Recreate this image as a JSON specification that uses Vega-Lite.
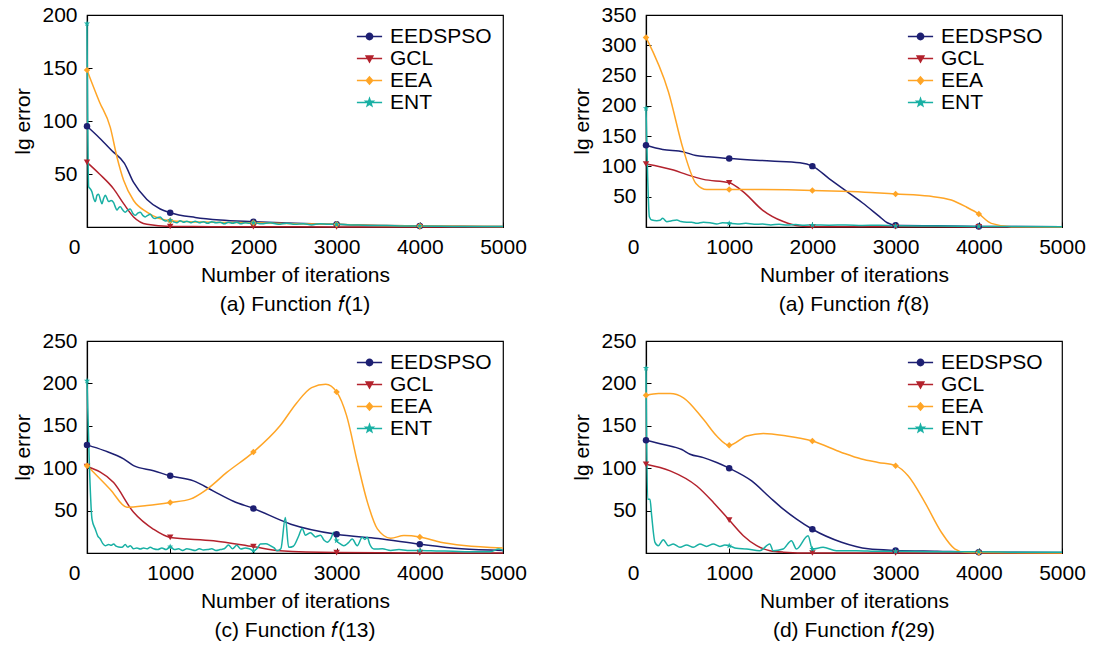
{
  "$schema": "https://vega.github.io/schema/vega-lite/v6.json",
  "padding": {"left": 12, "top": 3, "right": 0, "bottom": 0},
  "background": "white",
  "config": {
    "view": {"stroke": "black", "strokeWidth": 1.2},
    "font": "Liberation Sans",
    "axis": {
      "labelFont": "Liberation Sans", "labelFontSize": 21, "labelColor": "black",
      "titleFont": "Liberation Sans", "titleFontSize": 21, "titleFontWeight": "normal", "titleColor": "black",
      "domainColor": "black", "domainWidth": 1.2, "tickColor": "black", "tickSize": -5, "tickWidth": 1,
      "grid": false, "labelFlush": false, "labelOverlap": false
    },
    "legend": {
      "orient": "none", "legendY": 10, "labelFont": "Liberation Sans", "labelFontSize": 21,
      "labelColor": "black", "symbolSize": 441, "rowPadding": -2.5, "labelOffset": 9, "padding": 0
    },
    "title": {"font": "Liberation Sans", "fontSize": 21, "fontWeight": "normal", "color": "black", "orient": "bottom", "offset": 9}
  },
  "datasets": {
    "p1": [
      {"s": "EEDSPSO", "x": 0, "y": 95, "m": 1}, {"s": "EEDSPSO", "x": 150, "y": 84}, {"s": "EEDSPSO", "x": 300, "y": 72}, {"s": "EEDSPSO", "x": 450, "y": 60}, {"s": "EEDSPSO", "x": 560, "y": 42}, {"s": "EEDSPSO", "x": 720, "y": 26}, {"s": "EEDSPSO", "x": 880, "y": 17}, {"s": "EEDSPSO", "x": 1000, "y": 13.5, "m": 1}, {"s": "EEDSPSO", "x": 1300, "y": 9}, {"s": "EEDSPSO", "x": 1600, "y": 6.5}, {"s": "EEDSPSO", "x": 2000, "y": 5, "m": 1}, {"s": "EEDSPSO", "x": 2500, "y": 3.5}, {"s": "EEDSPSO", "x": 3000, "y": 2.5, "m": 1}, {"s": "EEDSPSO", "x": 3500, "y": 1.5}, {"s": "EEDSPSO", "x": 4000, "y": 1, "m": 1}, {"s": "EEDSPSO", "x": 4500, "y": 0.7}, {"s": "EEDSPSO", "x": 5000, "y": 0.5},
      {"s": "GCL", "x": 0, "y": 61, "m": 1}, {"s": "GCL", "x": 150, "y": 50}, {"s": "GCL", "x": 320, "y": 36}, {"s": "GCL", "x": 440, "y": 22}, {"s": "GCL", "x": 560, "y": 9.5}, {"s": "GCL", "x": 720, "y": 2.5}, {"s": "GCL", "x": 1000, "y": 0.5, "m": 1}, {"s": "GCL", "x": 1500, "y": 0.3}, {"s": "GCL", "x": 2000, "y": 0.2, "m": 1}, {"s": "GCL", "x": 3000, "y": 0.1, "m": 1}, {"s": "GCL", "x": 4000, "y": 0, "m": 1}, {"s": "GCL", "x": 5000, "y": 0},
      {"s": "EEA", "x": 0, "y": 148, "m": 1}, {"s": "EEA", "x": 150, "y": 118}, {"s": "EEA", "x": 280, "y": 94}, {"s": "EEA", "x": 360, "y": 66}, {"s": "EEA", "x": 440, "y": 44}, {"s": "EEA", "x": 560, "y": 25}, {"s": "EEA", "x": 720, "y": 14}, {"s": "EEA", "x": 1000, "y": 6, "m": 1}, {"s": "EEA", "x": 1500, "y": 4.5}, {"s": "EEA", "x": 2000, "y": 4, "m": 1}, {"s": "EEA", "x": 2500, "y": 3}, {"s": "EEA", "x": 3000, "y": 2.5, "m": 1}, {"s": "EEA", "x": 3500, "y": 1.5}, {"s": "EEA", "x": 4000, "y": 1, "m": 1}, {"s": "EEA", "x": 5000, "y": 0.5},
      {"s": "ENT", "x": 0, "y": 192, "m": 1}, {"s": "ENT", "x": 20, "y": 38}, {"s": "ENT", "x": 40, "y": 36}, {"s": "ENT", "x": 60, "y": 33}, {"s": "ENT", "x": 80, "y": 27}, {"s": "ENT", "x": 100, "y": 24}, {"s": "ENT", "x": 120, "y": 30}, {"s": "ENT", "x": 140, "y": 31}, {"s": "ENT", "x": 160, "y": 26}, {"s": "ENT", "x": 180, "y": 22}, {"s": "ENT", "x": 200, "y": 27}, {"s": "ENT", "x": 220, "y": 30}, {"s": "ENT", "x": 240, "y": 27}, {"s": "ENT", "x": 260, "y": 24}, {"s": "ENT", "x": 290, "y": 25}, {"s": "ENT", "x": 320, "y": 23}, {"s": "ENT", "x": 340, "y": 19}, {"s": "ENT", "x": 360, "y": 16}, {"s": "ENT", "x": 380, "y": 18}, {"s": "ENT", "x": 400, "y": 19}, {"s": "ENT", "x": 430, "y": 16}, {"s": "ENT", "x": 460, "y": 14}, {"s": "ENT", "x": 490, "y": 16}, {"s": "ENT", "x": 520, "y": 17}, {"s": "ENT", "x": 550, "y": 13}, {"s": "ENT", "x": 580, "y": 11}, {"s": "ENT", "x": 610, "y": 13}, {"s": "ENT", "x": 640, "y": 14}, {"s": "ENT", "x": 670, "y": 11}, {"s": "ENT", "x": 700, "y": 9.5}, {"s": "ENT", "x": 730, "y": 11}, {"s": "ENT", "x": 760, "y": 12}, {"s": "ENT", "x": 790, "y": 9}, {"s": "ENT", "x": 820, "y": 8}, {"s": "ENT", "x": 850, "y": 9}, {"s": "ENT", "x": 880, "y": 9.5}, {"s": "ENT", "x": 910, "y": 7}, {"s": "ENT", "x": 940, "y": 5.7}, {"s": "ENT", "x": 970, "y": 6}, {"s": "ENT", "x": 1000, "y": 6.3, "m": 1}, {"s": "ENT", "x": 1040, "y": 5}, {"s": "ENT", "x": 1080, "y": 4}, {"s": "ENT", "x": 1120, "y": 6}, {"s": "ENT", "x": 1160, "y": 4.5}, {"s": "ENT", "x": 1200, "y": 5.5}, {"s": "ENT", "x": 1250, "y": 4}, {"s": "ENT", "x": 1300, "y": 5.5}, {"s": "ENT", "x": 1350, "y": 4}, {"s": "ENT", "x": 1400, "y": 5}, {"s": "ENT", "x": 1450, "y": 3.5}, {"s": "ENT", "x": 1500, "y": 5}, {"s": "ENT", "x": 1550, "y": 4}, {"s": "ENT", "x": 1600, "y": 4.5}, {"s": "ENT", "x": 1650, "y": 3}, {"s": "ENT", "x": 1700, "y": 4.5}, {"s": "ENT", "x": 1750, "y": 3.5}, {"s": "ENT", "x": 1800, "y": 4.5}, {"s": "ENT", "x": 1850, "y": 3}, {"s": "ENT", "x": 1900, "y": 4}, {"s": "ENT", "x": 1950, "y": 3.5}, {"s": "ENT", "x": 2000, "y": 4, "m": 1}, {"s": "ENT", "x": 2100, "y": 3}, {"s": "ENT", "x": 2200, "y": 4}, {"s": "ENT", "x": 2300, "y": 2.5}, {"s": "ENT", "x": 2400, "y": 3.5}, {"s": "ENT", "x": 2500, "y": 2.5}, {"s": "ENT", "x": 2600, "y": 3}, {"s": "ENT", "x": 2700, "y": 2}, {"s": "ENT", "x": 2800, "y": 3}, {"s": "ENT", "x": 2900, "y": 2.5}, {"s": "ENT", "x": 3000, "y": 2.5, "m": 1}, {"s": "ENT", "x": 3200, "y": 2}, {"s": "ENT", "x": 3400, "y": 1.5}, {"s": "ENT", "x": 3600, "y": 1.5}, {"s": "ENT", "x": 3800, "y": 1}, {"s": "ENT", "x": 4000, "y": 1, "m": 1}, {"s": "ENT", "x": 4500, "y": 0.5}, {"s": "ENT", "x": 5000, "y": 0.5}
    ],
    "p2": [
      {"s": "EEDSPSO", "x": 0, "y": 135, "m": 1}, {"s": "EEDSPSO", "x": 200, "y": 128}, {"s": "EEDSPSO", "x": 450, "y": 124}, {"s": "EEDSPSO", "x": 600, "y": 118}, {"s": "EEDSPSO", "x": 750, "y": 116}, {"s": "EEDSPSO", "x": 1000, "y": 113, "m": 1}, {"s": "EEDSPSO", "x": 1500, "y": 109}, {"s": "EEDSPSO", "x": 1850, "y": 106}, {"s": "EEDSPSO", "x": 2000, "y": 100.5, "m": 1}, {"s": "EEDSPSO", "x": 2200, "y": 80}, {"s": "EEDSPSO", "x": 2400, "y": 60}, {"s": "EEDSPSO", "x": 2600, "y": 40}, {"s": "EEDSPSO", "x": 2800, "y": 18}, {"s": "EEDSPSO", "x": 2900, "y": 7}, {"s": "EEDSPSO", "x": 3000, "y": 3, "m": 1}, {"s": "EEDSPSO", "x": 3500, "y": 2}, {"s": "EEDSPSO", "x": 4000, "y": 1, "m": 1}, {"s": "EEDSPSO", "x": 5000, "y": 0.5},
      {"s": "GCL", "x": 0, "y": 104, "m": 1}, {"s": "GCL", "x": 330, "y": 94}, {"s": "GCL", "x": 500, "y": 86}, {"s": "GCL", "x": 690, "y": 78.6}, {"s": "GCL", "x": 1000, "y": 73, "m": 1}, {"s": "GCL", "x": 1170, "y": 58}, {"s": "GCL", "x": 1400, "y": 28}, {"s": "GCL", "x": 1650, "y": 9}, {"s": "GCL", "x": 1850, "y": 1.6}, {"s": "GCL", "x": 2000, "y": 0.5, "m": 1}, {"s": "GCL", "x": 3000, "y": 0.3, "m": 1}, {"s": "GCL", "x": 4000, "y": 0.2, "m": 1}, {"s": "GCL", "x": 5000, "y": 0},
      {"s": "EEA", "x": 0, "y": 313, "m": 1}, {"s": "EEA", "x": 270, "y": 223}, {"s": "EEA", "x": 450, "y": 127}, {"s": "EEA", "x": 600, "y": 72}, {"s": "EEA", "x": 730, "y": 62}, {"s": "EEA", "x": 1000, "y": 62, "m": 1}, {"s": "EEA", "x": 2000, "y": 60.4, "m": 1}, {"s": "EEA", "x": 2350, "y": 59}, {"s": "EEA", "x": 2700, "y": 57}, {"s": "EEA", "x": 3000, "y": 54.5, "m": 1}, {"s": "EEA", "x": 3400, "y": 51}, {"s": "EEA", "x": 3670, "y": 44.5}, {"s": "EEA", "x": 3850, "y": 33}, {"s": "EEA", "x": 4000, "y": 21.5, "m": 1}, {"s": "EEA", "x": 4150, "y": 6}, {"s": "EEA", "x": 4390, "y": 0.6}, {"s": "EEA", "x": 5000, "y": 0},
      {"s": "ENT", "x": 0, "y": 196, "m": 1}, {"s": "ENT", "x": 20, "y": 83}, {"s": "ENT", "x": 40, "y": 17}, {"s": "ENT", "x": 70, "y": 11.5}, {"s": "ENT", "x": 130, "y": 10.4}, {"s": "ENT", "x": 170, "y": 11}, {"s": "ENT", "x": 200, "y": 14.3}, {"s": "ENT", "x": 250, "y": 8.8}, {"s": "ENT", "x": 300, "y": 10}, {"s": "ENT", "x": 370, "y": 11.5}, {"s": "ENT", "x": 420, "y": 9}, {"s": "ENT", "x": 490, "y": 7.7}, {"s": "ENT", "x": 550, "y": 8}, {"s": "ENT", "x": 610, "y": 6}, {"s": "ENT", "x": 690, "y": 8}, {"s": "ENT", "x": 770, "y": 7}, {"s": "ENT", "x": 850, "y": 5}, {"s": "ENT", "x": 920, "y": 7}, {"s": "ENT", "x": 1000, "y": 6, "m": 1}, {"s": "ENT", "x": 1100, "y": 5}, {"s": "ENT", "x": 1200, "y": 6}, {"s": "ENT", "x": 1300, "y": 4.4}, {"s": "ENT", "x": 1400, "y": 5}, {"s": "ENT", "x": 1500, "y": 3.5}, {"s": "ENT", "x": 1600, "y": 4.5}, {"s": "ENT", "x": 1700, "y": 3.3}, {"s": "ENT", "x": 1800, "y": 4}, {"s": "ENT", "x": 1900, "y": 3}, {"s": "ENT", "x": 2000, "y": 3.3, "m": 1}, {"s": "ENT", "x": 2200, "y": 3}, {"s": "ENT", "x": 2400, "y": 3.5}, {"s": "ENT", "x": 2600, "y": 2.5}, {"s": "ENT", "x": 2800, "y": 3}, {"s": "ENT", "x": 3000, "y": 2, "m": 1}, {"s": "ENT", "x": 3500, "y": 1.5}, {"s": "ENT", "x": 4000, "y": 1, "m": 1}, {"s": "ENT", "x": 5000, "y": 0.5}
    ],
    "p3": [
      {"s": "EEDSPSO", "x": 0, "y": 127.5, "m": 1}, {"s": "EEDSPSO", "x": 200, "y": 121}, {"s": "EEDSPSO", "x": 440, "y": 111}, {"s": "EEDSPSO", "x": 560, "y": 103}, {"s": "EEDSPSO", "x": 800, "y": 97}, {"s": "EEDSPSO", "x": 1000, "y": 91, "m": 1}, {"s": "EEDSPSO", "x": 1280, "y": 85}, {"s": "EEDSPSO", "x": 1520, "y": 73}, {"s": "EEDSPSO", "x": 1760, "y": 61}, {"s": "EEDSPSO", "x": 2000, "y": 52.5, "m": 1}, {"s": "EEDSPSO", "x": 2450, "y": 34}, {"s": "EEDSPSO", "x": 3000, "y": 22, "m": 1}, {"s": "EEDSPSO", "x": 3500, "y": 17}, {"s": "EEDSPSO", "x": 4000, "y": 10.4, "m": 1}, {"s": "EEDSPSO", "x": 4500, "y": 5}, {"s": "EEDSPSO", "x": 5000, "y": 3},
      {"s": "GCL", "x": 0, "y": 102, "m": 1}, {"s": "GCL", "x": 320, "y": 83}, {"s": "GCL", "x": 560, "y": 48}, {"s": "GCL", "x": 800, "y": 28}, {"s": "GCL", "x": 1000, "y": 18.4, "m": 1}, {"s": "GCL", "x": 1520, "y": 14.5}, {"s": "GCL", "x": 2000, "y": 7.5, "m": 1}, {"s": "GCL", "x": 2320, "y": 2.7}, {"s": "GCL", "x": 3000, "y": 0.5, "m": 1}, {"s": "GCL", "x": 4000, "y": 0, "m": 1}, {"s": "GCL", "x": 5000, "y": 0},
      {"s": "EEA", "x": 0, "y": 103, "m": 1}, {"s": "EEA", "x": 280, "y": 75}, {"s": "EEA", "x": 480, "y": 54}, {"s": "EEA", "x": 720, "y": 56}, {"s": "EEA", "x": 1000, "y": 59.6, "m": 1}, {"s": "EEA", "x": 1240, "y": 63.5}, {"s": "EEA", "x": 1440, "y": 75}, {"s": "EEA", "x": 1680, "y": 95}, {"s": "EEA", "x": 2000, "y": 119, "m": 1}, {"s": "EEA", "x": 2320, "y": 150}, {"s": "EEA", "x": 2520, "y": 177}, {"s": "EEA", "x": 2700, "y": 195}, {"s": "EEA", "x": 2870, "y": 199}, {"s": "EEA", "x": 3000, "y": 190, "m": 1}, {"s": "EEA", "x": 3120, "y": 162}, {"s": "EEA", "x": 3250, "y": 107}, {"s": "EEA", "x": 3370, "y": 60}, {"s": "EEA", "x": 3490, "y": 28.5}, {"s": "EEA", "x": 3650, "y": 17.5}, {"s": "EEA", "x": 3810, "y": 20.6}, {"s": "EEA", "x": 4000, "y": 19, "m": 1}, {"s": "EEA", "x": 4250, "y": 12.7}, {"s": "EEA", "x": 4530, "y": 8.8}, {"s": "EEA", "x": 5000, "y": 6},
      {"s": "ENT", "x": 0, "y": 203, "m": 1}, {"s": "ENT", "x": 30, "y": 99}, {"s": "ENT", "x": 60, "y": 40}, {"s": "ENT", "x": 100, "y": 28}, {"s": "ENT", "x": 130, "y": 20}, {"s": "ENT", "x": 160, "y": 16.5}, {"s": "ENT", "x": 190, "y": 11}, {"s": "ENT", "x": 220, "y": 8.6}, {"s": "ENT", "x": 260, "y": 10}, {"s": "ENT", "x": 290, "y": 9}, {"s": "ENT", "x": 320, "y": 10.6}, {"s": "ENT", "x": 350, "y": 8}, {"s": "ENT", "x": 380, "y": 7}, {"s": "ENT", "x": 420, "y": 6.7}, {"s": "ENT", "x": 460, "y": 10}, {"s": "ENT", "x": 490, "y": 7}, {"s": "ENT", "x": 520, "y": 8.6}, {"s": "ENT", "x": 560, "y": 5}, {"s": "ENT", "x": 600, "y": 6}, {"s": "ENT", "x": 640, "y": 4.7}, {"s": "ENT", "x": 680, "y": 6}, {"s": "ENT", "x": 720, "y": 5}, {"s": "ENT", "x": 760, "y": 6.7}, {"s": "ENT", "x": 800, "y": 5}, {"s": "ENT", "x": 850, "y": 4}, {"s": "ENT", "x": 900, "y": 6}, {"s": "ENT", "x": 950, "y": 4}, {"s": "ENT", "x": 1000, "y": 7.5, "m": 1}, {"s": "ENT", "x": 1050, "y": 4}, {"s": "ENT", "x": 1100, "y": 5}, {"s": "ENT", "x": 1150, "y": 3}, {"s": "ENT", "x": 1200, "y": 5}, {"s": "ENT", "x": 1250, "y": 4}, {"s": "ENT", "x": 1300, "y": 3}, {"s": "ENT", "x": 1350, "y": 5}, {"s": "ENT", "x": 1400, "y": 3.5}, {"s": "ENT", "x": 1450, "y": 4}, {"s": "ENT", "x": 1500, "y": 5}, {"s": "ENT", "x": 1550, "y": 3}, {"s": "ENT", "x": 1600, "y": 4}, {"s": "ENT", "x": 1650, "y": 5}, {"s": "ENT", "x": 1700, "y": 9.4}, {"s": "ENT", "x": 1750, "y": 5}, {"s": "ENT", "x": 1800, "y": 9}, {"s": "ENT", "x": 1850, "y": 4.7}, {"s": "ENT", "x": 1900, "y": 6}, {"s": "ENT", "x": 1950, "y": 5}, {"s": "ENT", "x": 2000, "y": 2.7, "m": 1}, {"s": "ENT", "x": 2050, "y": 6}, {"s": "ENT", "x": 2083, "y": 10.6}, {"s": "ENT", "x": 2150, "y": 11}, {"s": "ENT", "x": 2203, "y": 8.6}, {"s": "ENT", "x": 2250, "y": 6}, {"s": "ENT", "x": 2283, "y": 2.7}, {"s": "ENT", "x": 2330, "y": 5}, {"s": "ENT", "x": 2384, "y": 42}, {"s": "ENT", "x": 2424, "y": 6.7}, {"s": "ENT", "x": 2480, "y": 8}, {"s": "ENT", "x": 2544, "y": 20}, {"s": "ENT", "x": 2586, "y": 29}, {"s": "ENT", "x": 2626, "y": 21}, {"s": "ENT", "x": 2686, "y": 24}, {"s": "ENT", "x": 2746, "y": 19}, {"s": "ENT", "x": 2806, "y": 21}, {"s": "ENT", "x": 2850, "y": 15}, {"s": "ENT", "x": 2887, "y": 12.7}, {"s": "ENT", "x": 2930, "y": 17}, {"s": "ENT", "x": 2967, "y": 24.5}, {"s": "ENT", "x": 3000, "y": 14.6, "m": 1}, {"s": "ENT", "x": 3040, "y": 11}, {"s": "ENT", "x": 3087, "y": 8.6}, {"s": "ENT", "x": 3140, "y": 12}, {"s": "ENT", "x": 3188, "y": 16.5}, {"s": "ENT", "x": 3248, "y": 8.6}, {"s": "ENT", "x": 3308, "y": 18.5}, {"s": "ENT", "x": 3340, "y": 16}, {"s": "ENT", "x": 3368, "y": 18.5}, {"s": "ENT", "x": 3400, "y": 10}, {"s": "ENT", "x": 3448, "y": 4.7}, {"s": "ENT", "x": 3550, "y": 5}, {"s": "ENT", "x": 3650, "y": 3}, {"s": "ENT", "x": 3750, "y": 4}, {"s": "ENT", "x": 3850, "y": 3}, {"s": "ENT", "x": 4000, "y": 3, "m": 1}, {"s": "ENT", "x": 4200, "y": 2.5}, {"s": "ENT", "x": 4400, "y": 2}, {"s": "ENT", "x": 4600, "y": 1.5}, {"s": "ENT", "x": 4850, "y": 1.6}, {"s": "ENT", "x": 4950, "y": 4.7}, {"s": "ENT", "x": 5000, "y": 3}
    ],
    "p4": [
      {"s": "EEDSPSO", "x": 0, "y": 133, "m": 1}, {"s": "EEDSPSO", "x": 210, "y": 128}, {"s": "EEDSPSO", "x": 430, "y": 122}, {"s": "EEDSPSO", "x": 530, "y": 116.5}, {"s": "EEDSPSO", "x": 690, "y": 112.5}, {"s": "EEDSPSO", "x": 850, "y": 106.7}, {"s": "EEDSPSO", "x": 1000, "y": 100, "m": 1}, {"s": "EEDSPSO", "x": 1270, "y": 85}, {"s": "EEDSPSO", "x": 1490, "y": 65.5}, {"s": "EEDSPSO", "x": 1650, "y": 51.8}, {"s": "EEDSPSO", "x": 1810, "y": 40}, {"s": "EEDSPSO", "x": 2000, "y": 28, "m": 1}, {"s": "EEDSPSO", "x": 2350, "y": 12.7}, {"s": "EEDSPSO", "x": 2670, "y": 4.9}, {"s": "EEDSPSO", "x": 3000, "y": 3, "m": 1}, {"s": "EEDSPSO", "x": 3500, "y": 2}, {"s": "EEDSPSO", "x": 4000, "y": 1, "m": 1}, {"s": "EEDSPSO", "x": 5000, "y": 0.5},
      {"s": "GCL", "x": 0, "y": 104.7, "m": 1}, {"s": "GCL", "x": 290, "y": 96.9}, {"s": "GCL", "x": 610, "y": 79}, {"s": "GCL", "x": 810, "y": 59.6}, {"s": "GCL", "x": 1000, "y": 38.8, "m": 1}, {"s": "GCL", "x": 1170, "y": 20.4}, {"s": "GCL", "x": 1330, "y": 8.6}, {"s": "GCL", "x": 1490, "y": 2.7}, {"s": "GCL", "x": 1650, "y": 1}, {"s": "GCL", "x": 2000, "y": 0, "m": 1}, {"s": "GCL", "x": 3000, "y": 0, "m": 1}, {"s": "GCL", "x": 4000, "y": 0, "m": 1}, {"s": "GCL", "x": 5000, "y": 0},
      {"s": "EEA", "x": 0, "y": 186, "m": 1}, {"s": "EEA", "x": 150, "y": 188}, {"s": "EEA", "x": 290, "y": 188}, {"s": "EEA", "x": 450, "y": 183}, {"s": "EEA", "x": 690, "y": 157.6}, {"s": "EEA", "x": 850, "y": 138}, {"s": "EEA", "x": 1000, "y": 127, "m": 1}, {"s": "EEA", "x": 1210, "y": 138}, {"s": "EEA", "x": 1410, "y": 141}, {"s": "EEA", "x": 1690, "y": 138}, {"s": "EEA", "x": 2000, "y": 132, "m": 1}, {"s": "EEA", "x": 2350, "y": 118.6}, {"s": "EEA", "x": 2590, "y": 110.8}, {"s": "EEA", "x": 2790, "y": 106.8}, {"s": "EEA", "x": 3000, "y": 103, "m": 1}, {"s": "EEA", "x": 3150, "y": 91}, {"s": "EEA", "x": 3350, "y": 60}, {"s": "EEA", "x": 3550, "y": 24.5}, {"s": "EEA", "x": 3710, "y": 5}, {"s": "EEA", "x": 3830, "y": 1}, {"s": "EEA", "x": 4000, "y": 0.5, "m": 1}, {"s": "EEA", "x": 5000, "y": 0},
      {"s": "ENT", "x": 0, "y": 218, "m": 1}, {"s": "ENT", "x": 20, "y": 63.5}, {"s": "ENT", "x": 48, "y": 63.5}, {"s": "ENT", "x": 68, "y": 44}, {"s": "ENT", "x": 108, "y": 12.5}, {"s": "ENT", "x": 148, "y": 8.6}, {"s": "ENT", "x": 208, "y": 15.7}, {"s": "ENT", "x": 268, "y": 8.6}, {"s": "ENT", "x": 328, "y": 10.6}, {"s": "ENT", "x": 408, "y": 6.7}, {"s": "ENT", "x": 488, "y": 9.4}, {"s": "ENT", "x": 568, "y": 6.7}, {"s": "ENT", "x": 648, "y": 10.6}, {"s": "ENT", "x": 728, "y": 7.8}, {"s": "ENT", "x": 808, "y": 10.6}, {"s": "ENT", "x": 888, "y": 7.8}, {"s": "ENT", "x": 948, "y": 9.4}, {"s": "ENT", "x": 1000, "y": 8.6, "m": 1}, {"s": "ENT", "x": 1088, "y": 5.5}, {"s": "ENT", "x": 1208, "y": 4.7}, {"s": "ENT", "x": 1368, "y": 2.7}, {"s": "ENT", "x": 1488, "y": 10.6}, {"s": "ENT", "x": 1528, "y": 2.7}, {"s": "ENT", "x": 1648, "y": 4.7}, {"s": "ENT", "x": 1748, "y": 14.5}, {"s": "ENT", "x": 1808, "y": 4.7}, {"s": "ENT", "x": 1948, "y": 20.4}, {"s": "ENT", "x": 2000, "y": 4.7, "m": 1}, {"s": "ENT", "x": 2128, "y": 6.7}, {"s": "ENT", "x": 2288, "y": 2.7}, {"s": "ENT", "x": 2528, "y": 2.7}, {"s": "ENT", "x": 2800, "y": 2}, {"s": "ENT", "x": 3000, "y": 2, "m": 1}, {"s": "ENT", "x": 3500, "y": 1.5}, {"s": "ENT", "x": 4000, "y": 1.5, "m": 1}, {"s": "ENT", "x": 4500, "y": 1}, {"s": "ENT", "x": 5000, "y": 1}
    ]
  },
  "columns": 2,
  "spacing": {"row": 13, "column": 44},
  "resolve": {"legend": {"color": "independent"}},
  "concat": [
    {
      "width": 416, "height": 212,
      "data": {"name": "p1"},
      "title": {"text": "(a) Function 𝑓(1)"},
      "encoding": {
        "x": {"field": "x", "type": "quantitative", "scale": {"domain": [0, 5000], "nice": false}, "axis": {"values": [0, 1000, 2000, 3000, 4000, 5000], "format": "d", "title": "Number of iterations", "labelPadding": 14, "titlePadding": 7, "labelOffset": {"condition": {"test": "datum.value === 0", "value": -13}, "value": 0}}},
        "y": {"field": "y", "type": "quantitative", "scale": {"domain": [0, 200], "nice": false}, "axis": {"values": [50, 100, 150, 200], "title": "lg error", "labelPadding": 15, "titlePadding": 8}},
        "color": {"field": "s", "type": "nominal", "scale": {"domain": ["EEDSPSO", "GCL", "EEA", "ENT"], "range": ["#1d1f72", "#b3222d", "#ffa526", "#19b0a4"]},
          "legend": {"title": null, "legendX": 271, "encode": {"symbols": {"update": {
            "shape": {"signal": "datum.value === 'EEDSPSO' ? 'M-1.2,0H1.2M-0.3,0A0.3,0.3 0 1,0 0.3,0A0.3,0.3 0 1,0 -0.3,0Z' : datum.value === 'GCL' ? 'M-1.2,0H1.2M-0.32,-0.23H0.32L0,0.34Z' : datum.value === 'EEA' ? 'M-1.2,0H1.2M0,-0.34L0.3,0L0,0.34L-0.3,0Z' : 'M-1.2,0H1.2M0,-0.37L0.087,-0.12L0.35,-0.114L0.143,0.046L0.216,0.298L0,0.15L-0.216,0.298L-0.143,0.046L-0.35,-0.114L-0.087,-0.12Z'"},
            "fill": {"signal": "scale('color', datum.value)"},
            "stroke": {"signal": "scale('color', datum.value)"},
            "strokeWidth": {"value": 1.5}, "opacity": {"value": 1}, "fillOpacity": {"value": 1}, "strokeOpacity": {"value": 1}}}}}}
      },
      "layer": [
        {"mark": {"type": "line", "interpolate": "monotone", "strokeWidth": 1.5}},
        {"transform": [{"filter": "datum.m === 1"}], "mark": {"type": "point", "filled": true, "size": 42, "opacity": 1},
         "encoding": {"shape": {"field": "s", "type": "nominal", "scale": {"domain": ["EEDSPSO", "GCL", "EEA", "ENT"], "range": ["circle", "triangle-down", "diamond", "M0,-1L0.235,-0.324L0.951,-0.309L0.388,0.126L0.588,0.809L0,0.4L-0.588,0.809L-0.388,0.126L-0.951,-0.309L-0.235,-0.324Z"]}, "legend": null}}}
      ]
    },
    {
      "width": 416, "height": 212,
      "data": {"name": "p2"},
      "title": {"text": "(a) Function 𝑓(8)"},
      "encoding": {
        "x": {"field": "x", "type": "quantitative", "scale": {"domain": [0, 5000], "nice": false}, "axis": {"values": [0, 1000, 2000, 3000, 4000, 5000], "format": "d", "title": "Number of iterations", "labelPadding": 14, "titlePadding": 7, "labelOffset": {"condition": {"test": "datum.value === 0", "value": -13}, "value": 0}}},
        "y": {"field": "y", "type": "quantitative", "scale": {"domain": [0, 350], "nice": false}, "axis": {"values": [50, 100, 150, 200, 250, 300, 350], "title": "lg error", "labelPadding": 15, "titlePadding": 8}},
        "color": {"field": "s", "type": "nominal", "scale": {"domain": ["EEDSPSO", "GCL", "EEA", "ENT"], "range": ["#1d1f72", "#b3222d", "#ffa526", "#19b0a4"]},
          "legend": {"title": null, "legendX": 263, "encode": {"symbols": {"update": {
            "shape": {"signal": "datum.value === 'EEDSPSO' ? 'M-1.2,0H1.2M-0.3,0A0.3,0.3 0 1,0 0.3,0A0.3,0.3 0 1,0 -0.3,0Z' : datum.value === 'GCL' ? 'M-1.2,0H1.2M-0.32,-0.23H0.32L0,0.34Z' : datum.value === 'EEA' ? 'M-1.2,0H1.2M0,-0.34L0.3,0L0,0.34L-0.3,0Z' : 'M-1.2,0H1.2M0,-0.37L0.087,-0.12L0.35,-0.114L0.143,0.046L0.216,0.298L0,0.15L-0.216,0.298L-0.143,0.046L-0.35,-0.114L-0.087,-0.12Z'"},
            "fill": {"signal": "scale('color', datum.value)"},
            "stroke": {"signal": "scale('color', datum.value)"},
            "strokeWidth": {"value": 1.5}, "opacity": {"value": 1}, "fillOpacity": {"value": 1}, "strokeOpacity": {"value": 1}}}}}}
      },
      "layer": [
        {"mark": {"type": "line", "interpolate": "monotone", "strokeWidth": 1.5}},
        {"transform": [{"filter": "datum.m === 1"}], "mark": {"type": "point", "filled": true, "size": 42, "opacity": 1},
         "encoding": {"shape": {"field": "s", "type": "nominal", "scale": {"domain": ["EEDSPSO", "GCL", "EEA", "ENT"], "range": ["circle", "triangle-down", "diamond", "M0,-1L0.235,-0.324L0.951,-0.309L0.388,0.126L0.588,0.809L0,0.4L-0.588,0.809L-0.388,0.126L-0.951,-0.309L-0.235,-0.324Z"]}, "legend": null}}}
      ]
    },
    {
      "width": 416, "height": 212,
      "data": {"name": "p3"},
      "title": {"text": "(c) Function 𝑓(13)"},
      "encoding": {
        "x": {"field": "x", "type": "quantitative", "scale": {"domain": [0, 5000], "nice": false}, "axis": {"values": [0, 1000, 2000, 3000, 4000, 5000], "format": "d", "title": "Number of iterations", "labelPadding": 14, "titlePadding": 7, "labelOffset": {"condition": {"test": "datum.value === 0", "value": -13}, "value": 0}}},
        "y": {"field": "y", "type": "quantitative", "scale": {"domain": [0, 250], "nice": false}, "axis": {"values": [50, 100, 150, 200, 250], "title": "lg error", "labelPadding": 15, "titlePadding": 8}},
        "color": {"field": "s", "type": "nominal", "scale": {"domain": ["EEDSPSO", "GCL", "EEA", "ENT"], "range": ["#1d1f72", "#b3222d", "#ffa526", "#19b0a4"]},
          "legend": {"title": null, "legendX": 271, "encode": {"symbols": {"update": {
            "shape": {"signal": "datum.value === 'EEDSPSO' ? 'M-1.2,0H1.2M-0.3,0A0.3,0.3 0 1,0 0.3,0A0.3,0.3 0 1,0 -0.3,0Z' : datum.value === 'GCL' ? 'M-1.2,0H1.2M-0.32,-0.23H0.32L0,0.34Z' : datum.value === 'EEA' ? 'M-1.2,0H1.2M0,-0.34L0.3,0L0,0.34L-0.3,0Z' : 'M-1.2,0H1.2M0,-0.37L0.087,-0.12L0.35,-0.114L0.143,0.046L0.216,0.298L0,0.15L-0.216,0.298L-0.143,0.046L-0.35,-0.114L-0.087,-0.12Z'"},
            "fill": {"signal": "scale('color', datum.value)"},
            "stroke": {"signal": "scale('color', datum.value)"},
            "strokeWidth": {"value": 1.5}, "opacity": {"value": 1}, "fillOpacity": {"value": 1}, "strokeOpacity": {"value": 1}}}}}}
      },
      "layer": [
        {"mark": {"type": "line", "interpolate": "monotone", "strokeWidth": 1.5}},
        {"transform": [{"filter": "datum.m === 1"}], "mark": {"type": "point", "filled": true, "size": 42, "opacity": 1},
         "encoding": {"shape": {"field": "s", "type": "nominal", "scale": {"domain": ["EEDSPSO", "GCL", "EEA", "ENT"], "range": ["circle", "triangle-down", "diamond", "M0,-1L0.235,-0.324L0.951,-0.309L0.388,0.126L0.588,0.809L0,0.4L-0.588,0.809L-0.388,0.126L-0.951,-0.309L-0.235,-0.324Z"]}, "legend": null}}}
      ]
    },
    {
      "width": 416, "height": 212,
      "data": {"name": "p4"},
      "title": {"text": "(d) Function 𝑓(29)"},
      "encoding": {
        "x": {"field": "x", "type": "quantitative", "scale": {"domain": [0, 5000], "nice": false}, "axis": {"values": [0, 1000, 2000, 3000, 4000, 5000], "format": "d", "title": "Number of iterations", "labelPadding": 14, "titlePadding": 7, "labelOffset": {"condition": {"test": "datum.value === 0", "value": -13}, "value": 0}}},
        "y": {"field": "y", "type": "quantitative", "scale": {"domain": [0, 250], "nice": false}, "axis": {"values": [50, 100, 150, 200, 250], "title": "lg error", "labelPadding": 15, "titlePadding": 8}},
        "color": {"field": "s", "type": "nominal", "scale": {"domain": ["EEDSPSO", "GCL", "EEA", "ENT"], "range": ["#1d1f72", "#b3222d", "#ffa526", "#19b0a4"]},
          "legend": {"title": null, "legendX": 263, "encode": {"symbols": {"update": {
            "shape": {"signal": "datum.value === 'EEDSPSO' ? 'M-1.2,0H1.2M-0.3,0A0.3,0.3 0 1,0 0.3,0A0.3,0.3 0 1,0 -0.3,0Z' : datum.value === 'GCL' ? 'M-1.2,0H1.2M-0.32,-0.23H0.32L0,0.34Z' : datum.value === 'EEA' ? 'M-1.2,0H1.2M0,-0.34L0.3,0L0,0.34L-0.3,0Z' : 'M-1.2,0H1.2M0,-0.37L0.087,-0.12L0.35,-0.114L0.143,0.046L0.216,0.298L0,0.15L-0.216,0.298L-0.143,0.046L-0.35,-0.114L-0.087,-0.12Z'"},
            "fill": {"signal": "scale('color', datum.value)"},
            "stroke": {"signal": "scale('color', datum.value)"},
            "strokeWidth": {"value": 1.5}, "opacity": {"value": 1}, "fillOpacity": {"value": 1}, "strokeOpacity": {"value": 1}}}}}}
      },
      "layer": [
        {"mark": {"type": "line", "interpolate": "monotone", "strokeWidth": 1.5}},
        {"transform": [{"filter": "datum.m === 1"}], "mark": {"type": "point", "filled": true, "size": 42, "opacity": 1},
         "encoding": {"shape": {"field": "s", "type": "nominal", "scale": {"domain": ["EEDSPSO", "GCL", "EEA", "ENT"], "range": ["circle", "triangle-down", "diamond", "M0,-1L0.235,-0.324L0.951,-0.309L0.388,0.126L0.588,0.809L0,0.4L-0.588,0.809L-0.388,0.126L-0.951,-0.309L-0.235,-0.324Z"]}, "legend": null}}}
      ]
    }
  ]
}
